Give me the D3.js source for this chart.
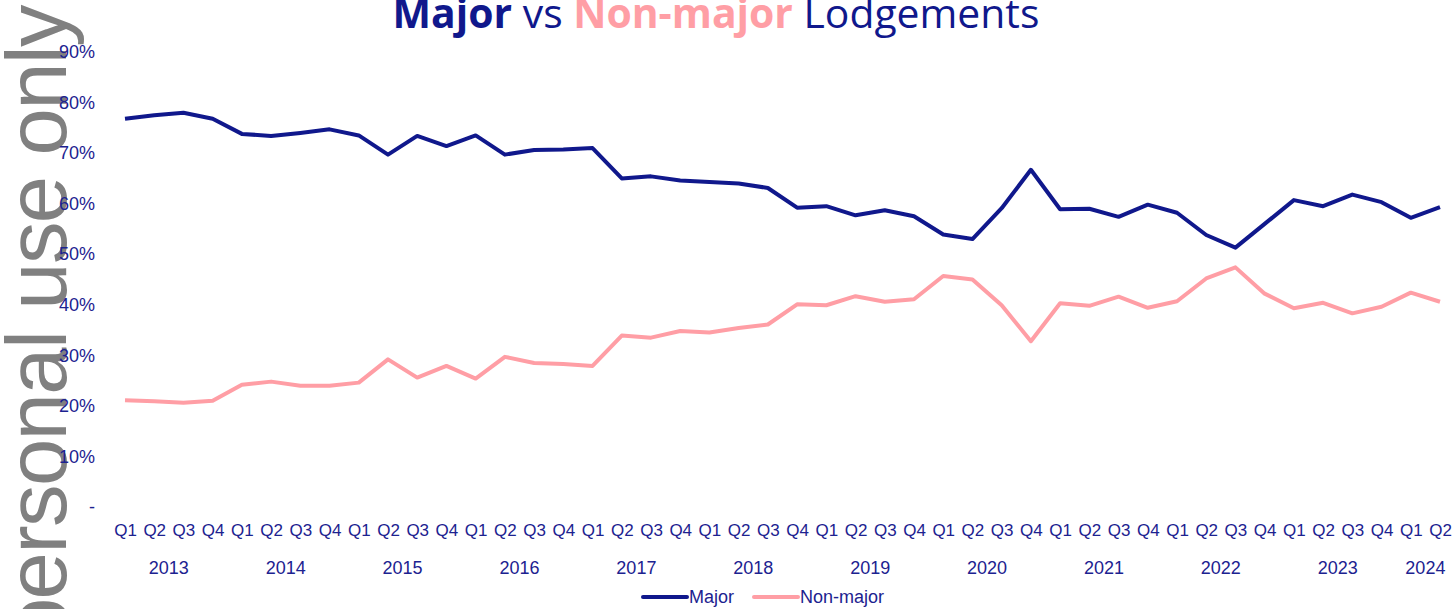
<!DOCTYPE html>
<html>
<head>
<meta charset="utf-8">
<script src="https://cdn.jsdelivr.net/npm/d3@7"></script>
<style>
  body { margin: 0; background: #fff; }
  svg { display: block; }
  text { font-family: "Liberation Sans", Arial, sans-serif; }
</style>
</head>
<body>
<div id="chart"></div>
<script>
// data (share of lodgements, %)
const years = ["2013", "2014", "2015", "2016", "2017", "2018", "2019", "2020", "2021", "2022", "2023", "2024"];
const quarters = ["Q1", "Q2", "Q3", "Q4"];

const major = [
  76.8, 77.5, 78.0, 76.8,
  73.8, 73.4, 74.0, 74.7,
  73.5, 69.7, 73.4, 71.4,
  73.5, 69.7, 70.6, 70.7,
  71.0, 65.0, 65.4, 64.6,
  64.3, 64.0, 63.1, 59.2,
  59.5, 57.7, 58.7, 57.5,
  53.9, 53.0, 59.1, 66.7,
  58.9, 59.0, 57.4, 59.8,
  58.2, 53.8, 51.3, 56.0,
  60.7, 59.5, 61.8, 60.3,
  57.2, 59.3
];
const nonMajor = [
  21.1, 20.9, 20.6, 21.0,
  24.2, 24.8, 24.0, 24.0,
  24.6, 29.2, 25.6, 27.9,
  25.4, 29.7, 28.5, 28.3,
  27.9, 33.9, 33.5, 34.8,
  34.5, 35.4, 36.1, 40.1,
  39.9, 41.7, 40.6, 41.1,
  45.7, 45.0, 39.9, 32.8,
  40.3, 39.8, 41.6, 39.4,
  40.7, 45.2, 47.4, 42.2,
  39.3, 40.4, 38.3, 39.6,
  42.4, 40.6
];
const yTicks = [0, 10, 20, 30, 40, 50, 60, 70, 80, 90];

const W = 1454, H = 609;
const navy = "#10188c", pink = "#ff9ea5", labelNavy = "#1c2290";

// one entry per quarter
const periods = major.map((v, i) => ({
  i: i,
  q: quarters[i % 4],
  year: years[Math.floor(i / 4)],
  major: v,
  nonMajor: nonMajor[i]
}));

const svg = d3.select("#chart").append("svg")
  .attr("width", W)
  .attr("height", H);

const x = d3.scalePoint()
  .domain(periods.map(d => d.i))
  .range([125, 1440]);

const y = d3.scaleLinear()
  .domain([0, 90])
  .range([507, 52]);

// watermark
svg.append("text")
  .attr("transform", "translate(66,6) rotate(-90)")
  .attr("text-anchor", "end")
  .attr("fill", "#808080")
  .style("font-size", "85px")
  .style("letter-spacing", "-1.6px")
  .text("For personal use only");

// y axis
const yAxis = svg.append("g")
  .attr("transform", "translate(97,0)")
  .call(d3.axisLeft(y)
    .tickValues(yTicks)
    .tickSize(0)
    .tickPadding(2)
    .tickFormat(d => d === 0 ? "-" : d + "%"));
yAxis.select(".domain").remove();
yAxis.selectAll("text")
  .attr("fill", labelNavy)
  .style("font-size", "18px")
  .style("font-family", "'Liberation Sans', Arial, sans-serif");

// quarter labels
const xAxis = svg.append("g")
  .attr("transform", "translate(0,520)")
  .call(d3.axisBottom(x)
    .tickSize(0)
    .tickPadding(0)
    .tickFormat(i => periods[i].q));
xAxis.select(".domain").remove();
xAxis.selectAll("text")
  .attr("fill", labelNavy)
  .attr("dy", "0.95em")
  .style("font-size", "17px")
  .style("font-family", "'Liberation Sans', Arial, sans-serif");

// year labels, centred under each year's quarters
const yearGroups = d3.groups(periods, d => d.year);
svg.append("g").selectAll("text")
  .data(yearGroups)
  .join("text")
  .attr("x", d => (x(d[1][0].i) + x(d[1][d[1].length - 1].i)) / 2)
  .attr("y", 574)
  .attr("text-anchor", "middle")
  .attr("fill", labelNavy)
  .style("font-size", "18px")
  .text(d => d[0]);

// lines
const series = [
  { name: "Major", key: "major", color: navy },
  { name: "Non-major", key: "nonMajor", color: pink }
];

series.forEach(s => {
  const line = d3.line()
    .x(d => x(d.i))
    .y(d => y(d[s.key]));
  svg.append("path")
    .datum(periods)
    .attr("fill", "none")
    .attr("stroke", s.color)
    .attr("stroke-width", 4)
    .attr("stroke-linejoin", "round")
    .attr("d", line);
});

// legend
const legendPos = [643, 754];
const legend = svg.append("g").selectAll("g")
  .data(series)
  .join("g")
  .attr("transform", (d, i) => `translate(${legendPos[i]},597)`);
legend.append("line")
  .attr("x1", 0).attr("x2", 44)
  .attr("stroke", d => d.color)
  .attr("stroke-width", 4)
  .attr("stroke-linecap", "round");
legend.append("text")
  .attr("x", 46)
  .attr("dy", "0.35em")
  .attr("fill", labelNavy)
  .style("font-size", "18px")
  .text(d => d.name);

// title
const title = svg.append("text")
  .attr("x", 716)
  .attr("y", 28)
  .attr("text-anchor", "middle")
  .style("font-family", "'Open Sans', 'Noto Sans', sans-serif")
  .style("font-size", "40px");
title.append("tspan").attr("fill", navy).attr("font-weight", "bold").text("Major");
title.append("tspan").attr("fill", navy).text(" vs ");
title.append("tspan").attr("fill", pink).attr("font-weight", "bold").text("Non-major");
title.append("tspan").attr("fill", navy).text(" Lodgements");
const tw = title.node().getComputedTextLength();
title.style("font-size", (40 * 647 / tw) + "px");
</script>
</body>
</html>
